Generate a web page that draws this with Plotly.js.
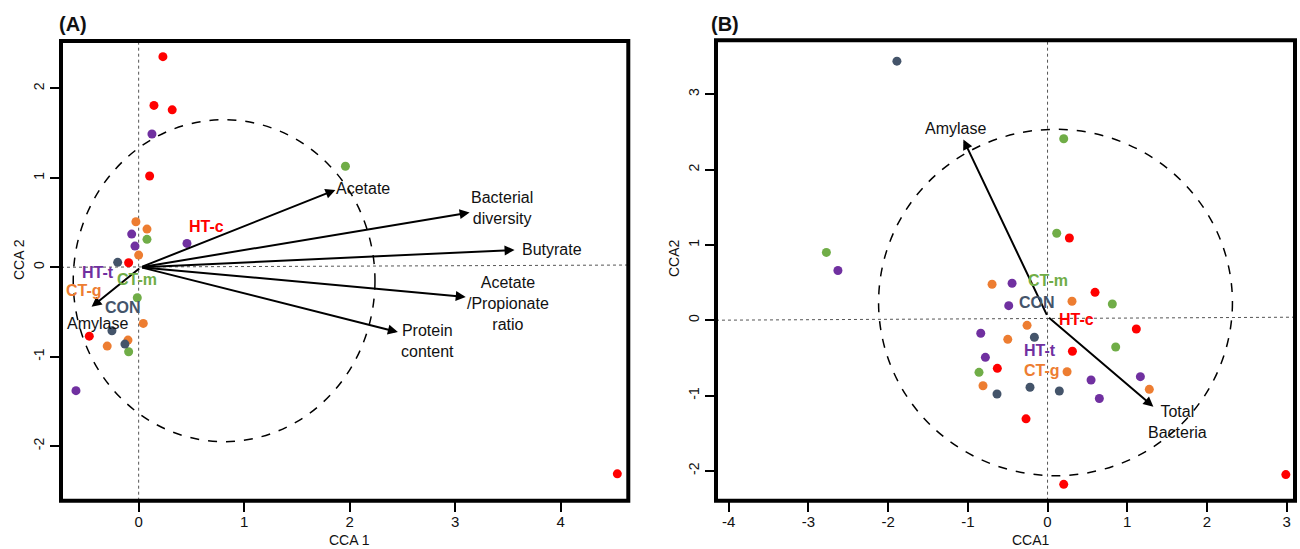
<!DOCTYPE html>
<html><head><meta charset="utf-8">
<script src="https://cdn.plot.ly/plotly-3.0.1.min.js"></script>
<style>html,body{margin:0;padding:0;background:#fff}#chart{width:1300px;height:549px}</style>
</head><body><div id="chart"></div>
<script>
// ---------- data ----------
const groupNames = ['HT-c', 'HT-t', 'CT-m', 'CT-g', 'CON'];

// Panel A sample scores (CCA 1, CCA 2) per group
const aX_HTc = [0.23, 0.145, 0.318, 0.104, -0.095, -0.468, 4.537];
const aY_HTc = [2.355, 1.81, 1.76, 1.02, 0.05, -0.77, -2.31];
const aX_HTt = [0.126, -0.066, -0.035, 0.458, -0.594];
const aY_HTt = [1.49, 0.371, 0.237, 0.267, -1.38];
const aX_CTm = [1.96, 0.079, -0.013, -0.095];
const aY_CTm = [1.13, 0.312, -0.341, -0.945];
const aX_CTg = [-0.026, 0.079, 0.0, 0.044, -0.101, -0.298];
const aY_CTg = [0.509, 0.427, 0.136, -0.628, -0.814, -0.881];
const aX_CON = [-0.199, -0.253, -0.130];
const aY_CON = [0.055, -0.710, -0.859];

// Panel B sample scores (CCA1, CCA2) per group
const bX_HTc = [0.274, 0.596, 1.114, 0.312, -0.63, -0.27, 0.203, 2.99];
const bY_HTc = [1.092, 0.37, -0.117, -0.413, -0.639, -1.31, -2.18, -2.05];
const bX_HTt = [-2.63, -0.445, -0.487, -0.838, -0.78, 0.546, 1.165, 0.65];
const bY_HTt = [0.66, 0.49, 0.193, -0.174, -0.493, -0.794, -0.75, -1.04];
const bX_CTm = [0.203, -2.775, 0.115, 0.813, 0.855, -0.86];
const bY_CTm = [2.41, 0.90, 1.154, 0.215, -0.356, -0.692];
const bX_CTg = [-0.696, 0.307, -0.257, -0.499, 0.245, -0.81, 1.277];
const bY_CTg = [0.477, 0.251, -0.068, -0.254, -0.684, -0.87, -0.918];
const bX_CON = [-1.89, -0.165, -0.22, -0.634, 0.148];
const bY_CON = [3.44, -0.227, -0.891, -0.98, -0.94];

// Group centroid labels
const aGroupLabX = [0.645, -0.389, -0.013, -0.516, -0.152];
const aGroupLabY = [0.453, -0.061, -0.132, -0.255, -0.445];
const bGroupLabX = [0.366, -0.094, 0.01, -0.073, -0.128];
const bGroupLabY = [0.003, -0.405, 0.525, -0.67, 0.232];

// Environmental vectors
const aVecNames = ['Acetate', 'Bacterial<br>diversity', 'Butyrate', 'Acetate<br>/Propionate<br>ratio', 'Protein<br>content', 'Amylase'];
const aVecX = [1.865, 3.137, 3.563, 3.10, 2.457, -0.446];
const aVecY = [0.865, 0.612, 0.194, -0.332, -0.725, -0.442];
const bVecNames = ['Amylase', 'Total<br>Bacteria'];
const bVecX = [-1.056, 1.328];
const bVecY = [2.40, -1.149];

// Tick labels
const aXTicks = [0, 1, 2, 3, 4];
const aYTicks = [-2, -1, 0, 1, 2];
const bXTicks = [-4, -3, -2, -1, 0, 1, 2, 3];
const bYTicks = [-2, -1, 0, 1, 2, 3];

// ---------- styling / layout ----------
const groupColors = ['#FF0000', '#7030A0', '#70AD47', '#ED7D31', '#44546A'];
const FONT = 'Arial, "Liberation Sans", sans-serif';
const aVecOrigin = [0.02, 0];
const bVecOrigin = [0, 0.05];
const aLabOff = [[0.265, 0.015], [0.307, 0.05], [0.355, 0], [0.396, -0.07], [0.276, -0.095], [0.054, -0.19]];
const bLabOff = [[-0.094, 0.15], [0.303, -0.2]];

const aSets = [[aX_HTc, aY_HTc], [aX_HTt, aY_HTt], [aX_CTm, aY_CTm], [aX_CTg, aY_CTg], [aX_CON, aY_CON]];
const bSets = [[bX_HTc, bY_HTc], [bX_HTt, bY_HTt], [bX_CTm, bY_CTm], [bX_CTg, bY_CTg], [bX_CON, bY_CON]];

const traces = [];
aSets.forEach((s, i) => traces.push({
  x: s[0], y: s[1], type: 'scatter', mode: 'markers', name: groupNames[i],
  xaxis: 'x', yaxis: 'y', marker: {color: groupColors[i], size: 9, line: {width: 0}}, hoverinfo: 'x+y+name'
}));
bSets.forEach((s, i) => traces.push({
  x: s[0], y: s[1], type: 'scatter', mode: 'markers', name: groupNames[i],
  xaxis: 'x2', yaxis: 'y2', marker: {color: groupColors[i], size: 9, line: {width: 0}}, hoverinfo: 'x+y+name'
}));

const ann = [];
function vecs(names, vx, vy, origin, off, xr, yr) {
  names.forEach((n, i) => {
    ann.push({x: vx[i], y: vy[i], ax: origin[0], ay: origin[1], xref: xr, yref: yr, axref: xr, ayref: yr,
      text: '', showarrow: true, arrowhead: 2, arrowsize: 1, arrowwidth: 2, arrowcolor: '#000', standoff: 0});
    ann.push({x: vx[i] + off[i][0], y: vy[i] + off[i][1], xref: xr, yref: yr, text: n, showarrow: false,
      font: {family: FONT, size: 16, color: '#111'}, align: 'center', xanchor: 'center', yanchor: 'middle'});
  });
}
vecs(aVecNames, aVecX, aVecY, aVecOrigin, aLabOff, 'x', 'y');
vecs(bVecNames, bVecX, bVecY, bVecOrigin, bLabOff, 'x2', 'y2');

function groupLabels(lx, ly, xr, yr) {
  groupNames.forEach((g, i) => ann.push({x: lx[i], y: ly[i], xref: xr, yref: yr, text: '<b>' + g + '</b>',
    showarrow: false, font: {family: FONT, size: 16, color: groupColors[i]}, xanchor: 'center', yanchor: 'middle'}));
}
groupLabels(aGroupLabX, aGroupLabY, 'x', 'y');
groupLabels(bGroupLabX, bGroupLabY, 'x2', 'y2');

function paperText(t, px, py, size, angle, bold) {
  ann.push({x: px / 1300, y: 1 - py / 549, xref: 'paper', yref: 'paper', text: bold ? '<b>' + t + '</b>' : t,
    showarrow: false, textangle: angle, font: {family: FONT, size: size, color: '#111'}, xanchor: 'center', yanchor: 'middle'});
}
paperText('(A)', 73, 24, 20, 0, true);
paperText('(B)', 725, 24, 20, 0, true);
paperText('CCA 1', 349, 540, 14, 0, false);
paperText('CCA 2', 19, 260, 14, -90, false);
paperText('CCA1', 1031, 540, 14, 0, false);
paperText('CCA2', 674, 258, 14, -90, false);

const dot = {color: '#555', width: 1, dash: 'dot'};
const shapes = [
  {type: 'line', xref: 'x', yref: 'y domain', x0: 0, x1: 0, y0: 0, y1: 1, line: dot, layer: 'below'},
  {type: 'line', xref: 'x domain', yref: 'y', x0: 0, x1: 1, y0: 0, y1: 0.025, line: dot, layer: 'below'},
  {type: 'line', xref: 'x2', yref: 'y2 domain', x0: 0, x1: 0, y0: 0, y1: 1, line: dot, layer: 'below'},
  {type: 'line', xref: 'x2 domain', yref: 'y2', x0: 0, x1: 1, y0: 0, y1: 0.04, line: dot, layer: 'below'},
  {type: 'circle', xref: 'x', yref: 'y', x0: 0.81 - 1.43, x1: 0.81 + 1.43, y0: -0.15 - 1.80, y1: -0.15 + 1.80,
    line: {color: '#000', width: 1.5, dash: 'dash'}, layer: 'below'},
  {type: 'circle', xref: 'x2', yref: 'y2', x0: 0.1 - 2.22, x1: 0.1 + 2.22, y0: 0.235 - 2.30, y1: 0.235 + 2.30,
    line: {color: '#000', width: 1.5, dash: 'dash'}, layer: 'below'},
  {type: 'rect', xref: 'x domain', yref: 'y domain', x0: 0, x1: 1, y0: 0, y1: 1, line: {color: '#000', width: 4}, layer: 'above'},
  {type: 'rect', xref: 'x2 domain', yref: 'y2 domain', x0: 0, x1: 1, y0: 0, y1: 1, line: {color: '#000', width: 4}, layer: 'above'}
];

function axis(dom, rng, vals, anchor, size, angle, isX) {
  const a = {domain: dom, range: rng, anchor: anchor, tickmode: 'array', tickvals: vals, ticktext: vals.map(String),
    ticks: 'outside', ticklen: 10, tickwidth: 2, tickcolor: '#000', showgrid: false, zeroline: false, showline: false,
    tickangle: angle, tickfont: {family: FONT, size: size, color: '#111'}, fixedrange: true};
  if (isX) a.ticklabelstandoff = -3;
  return a;
}

const layout = {
  width: 1300, height: 549, margin: {l: 0, r: 0, t: 0, b: 0},
  paper_bgcolor: '#fff', plot_bgcolor: '#fff', showlegend: false,
  xaxis: axis([61 / 1300, 628.3 / 1300], [-0.736, 4.641], aXTicks, 'y', 15, 0, true),
  yaxis: axis([1 - 500.7 / 549, 1 - 41 / 549], [-2.61, 2.53], aYTicks, 'x', 14, -90, false),
  xaxis2: axis([716 / 1300, 1295 / 1300], [-4.16, 3.105], bXTicks, 'y2', 15, 0, true),
  yaxis2: axis([1 - 500.7 / 549, 1 - 40.3 / 549], [-2.397, 3.717], bYTicks, 'x2', 14, -90, false),
  annotations: ann, shapes: shapes
};

Plotly.newPlot('chart', traces, layout, {displayModeBar: false, staticPlot: true});
</script></body></html>
